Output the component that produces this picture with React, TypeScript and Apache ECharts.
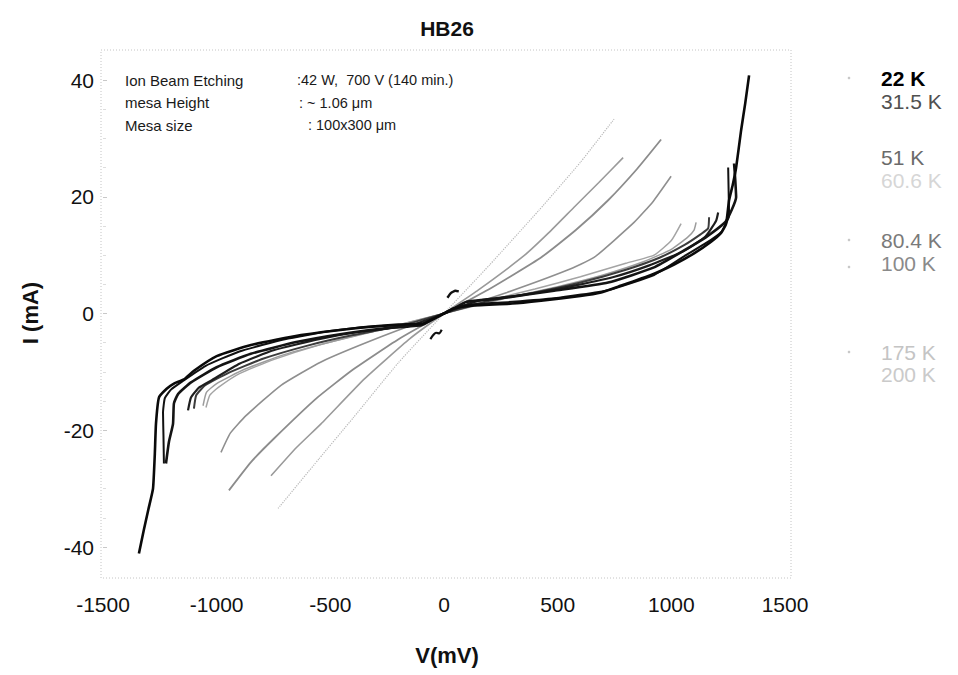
import React, { useEffect, useRef } from "react";
import * as echarts from "echarts";

// ---- data (V in mV, I in mA) ----
const chartTitle = "HB26";
const xName = "V(mV)";
const yName = "I (mA)";
const xMin = -1500;
const xMax = 1500;
const xStep = 500;
const yMin = -40;
const yMax = 40;
const yStep = 20;

const infoLabels = ["Ion Beam Etching", "mesa Height", "Mesa size"];
const infoValues = [":42 W,  700 V (140 min.)", ": ~ 1.06 μm", ": 100x300 μm"];

const tempNames = ["22 K", "31.5 K", "51 K", "60.6 K", "80.4 K", "100 K", "175 K", "200 K"];

const k22a = [
  [-1342, -41.1], [-1320, -37], [-1300, -33.5], [-1280, -30], [-1272, -24], [-1267, -18.9],
  [-1254, -14.4], [-1220, -12.9], [-1188, -12.0], [-1144, -11.3], [-1100, -9.8], [-1000, -7.3],
  [-849, -5.4], [-629, -3.7], [-409, -2.6], [-200, -1.9], [-90, -1.7], [-40, -0.8], [0, 0],
  [40, 0.8], [110, 1.3], [300, 1.7], [427, 2.2], [600, 3.0], [691, 3.6], [766, 4.6], [911, 6.6],
  [1012, 8.4], [1100, 10.3], [1175, 12.3], [1219, 13.8], [1241, 15.4], [1254, 19.4], [1270, 22],
  [1285, 25], [1307, 31.4], [1325, 36], [1342, 40.8],
];
const k22b = [
  [-1232, -25.7], [-1234, -21], [-1236, -17], [-1228, -14.5], [-1200, -13.0], [-1150, -11.6],
  [-1050, -9.0], [-900, -6.5], [-700, -4.4], [-500, -3.0], [-300, -2.2], [-100, -1.8], [-45, -0.9],
  [0, 0], [45, 0.9], [100, 1.5], [300, 2.0], [484, 2.6], [722, 4.0], [924, 6.6], [1056, 9.8],
  [1150, 12.0], [1220, 14.0], [1254, 16.8], [1252, 21], [1250, 25],
];
const k31a = [
  [-1223, -25.7], [-1210, -22], [-1192, -18.9], [-1188, -15.4], [-1170, -13.8], [-1113, -11.8],
  [-1000, -9.2], [-850, -6.9], [-650, -4.9], [-450, -3.5], [-250, -2.5], [-100, -2.0], [-50, -1.0],
  [0, 0], [50, 1.0], [100, 2.0], [250, 2.6], [484, 3.9], [722, 5.3], [924, 7.9], [1056, 10.8],
  [1150, 13.0], [1240, 15.8], [1285, 19.9], [1281, 23], [1276, 25.7],
];
const k31b = [
  [-1126, -16.6], [-1113, -14.4], [-1078, -12.7], [-1025, -11.5], [-900, -8.6], [-750, -6.3],
  [-550, -4.4], [-350, -3.0], [-150, -2.1], [0, 0], [150, 2.2], [350, 3.2], [550, 4.6],
  [750, 6.3], [900, 8.2], [1050, 10.6], [1150, 13.2], [1197, 15.9], [1206, 17.3],
];
const k51 = [
  [-1100, -16.3], [-1090, -14], [-1050, -12.3], [-950, -10.2], [-800, -7.8], [-600, -5.5],
  [-400, -3.7], [-200, -2.2], [0, 0], [200, 2.2], [400, 3.6], [600, 5.3], [800, 7.5],
  [950, 9.6], [1060, 11.8], [1130, 13.6], [1162, 14.6], [1166, 16.5],
];
const k60a = [
  [-1047, -16.1], [-1030, -14], [-994, -12.7], [-900, -10.3], [-750, -7.9], [-550, -5.4],
  [-300, -2.9], [0, 0], [194, 2.2], [400, 4.2], [600, 6.3], [800, 8.6], [924, 10],
  [1000, 12.5], [1043, 15.4],
];
const k60b = [
  [-1060, -15.8], [-1045, -13.5], [-1000, -12.0], [-880, -9.6], [-700, -7.0], [-500, -4.9],
  [-300, -3.0], [0, 0], [300, 2.9], [500, 4.6], [700, 6.6], [880, 8.9], [1000, 11],
  [1070, 13], [1100, 14.3], [1109, 15.6],
];
const k80 = [
  [-981, -23.8], [-940, -20.5], [-871, -17.5], [-717, -12.3], [-541, -8.3], [-277, -4.0],
  [0, 0], [277, 3.6], [541, 7.4], [660, 9.6], [836, 15.6], [920, 19.2], [999, 23.5],
];
const k100 = [
  [-946, -30.3], [-850, -25.5], [-750, -21.5], [-560, -14.5], [-400, -9.6], [-200, -4.4],
  [0, 0], [200, 4.2], [427, 9.6], [580, 14.3], [722, 19.4], [850, 24.8], [955, 29.8],
];
const k175 = [
  [-761, -27.8], [-650, -23], [-541, -18.9], [-350, -11.2], [-150, -4.3], [0, 0],
  [150, 4.0], [352, 9.9], [460, 13.8], [572, 18.2], [680, 22.4], [788, 26.7],
];
const k200 = [
  [-730, -33.4], [-550, -24.9], [-400, -17.9], [-200, -8.4], [0, 0], [200, 8.3],
  [418, 17.7], [600, 25.9], [748, 33.3],
];
const loopUp = [[15, 2.7], [30, 3.5], [50, 3.9], [65, 3.8]];
const loopDown = [[-60, -4.4], [-50, -3.8], [-35, -3.3], [-20, -3.4], [-10, -2.8]];

const curves = [
  { name: "200 K", data: k200, color: "#b8b8b8", width: 1.2, dash: "dotted" },
  { name: "175 K", data: k175, color: "#9a9a9a", width: 1.6, dash: "solid" },
  { name: "100 K", data: k100, color: "#8c8c8c", width: 1.8, dash: "solid" },
  { name: "80.4 K", data: k80, color: "#8f8f8f", width: 1.6, dash: "solid" },
  { name: "60.6 K", data: k60a, color: "#a4a4a4", width: 1.5, dash: "solid" },
  { name: "60.6 K", data: k60b, color: "#9c9c9c", width: 1.5, dash: "solid" },
  { name: "51 K", data: k51, color: "#3c3c3c", width: 2, dash: "solid" },
  { name: "31.5 K", data: k31b, color: "#1e1e1e", width: 2.2, dash: "solid" },
  { name: "31.5 K", data: k31a, color: "#141414", width: 2.6, dash: "solid" },
  { name: "22 K", data: k22b, color: "#111111", width: 2, dash: "solid" },
  { name: "22 K", data: k22a, color: "#0a0a0a", width: 2.6, dash: "solid" },
  { name: "22 K", data: loopUp, color: "#111111", width: 2.4, dash: "solid" },
  { name: "22 K", data: loopDown, color: "#111111", width: 2.2, dash: "solid" },
];

const legendColors = ["#000000", "#505050", "#6a6a6a", "#d6d6d6", "#7a7a7a", "#8a8a8a", "#c4c4c4", "#cacaca"];
const legendY = [78, 101, 157, 180, 240, 263, 352, 374];

export default function App() {
  const ref = useRef<HTMLDivElement>(null);

  useEffect(() => {
    if (!ref.current) return;
    const chart = echarts.init(ref.current, null, { renderer: "svg" });
    const font = '"Liberation Sans", Arial, sans-serif';

    const graphics: any[] = [
      {
        type: "rect",
        silent: true,
        shape: { x: 101, y: 50, width: 690, height: 528 },
        style: { fill: "none", stroke: "#c4c4c4", lineWidth: 1, lineDash: [1, 2] },
      },
      {
        type: "text",
        x: 447,
        y: 28,
        style: { text: chartTitle, font: `bold 21px ${font}`, fill: "#111", textAlign: "center", textVerticalAlign: "middle", align: "center", verticalAlign: "middle" },
      },
      {
        type: "text",
        x: 447,
        y: 655,
        style: { text: xName, font: `bold 22px ${font}`, fill: "#111", textAlign: "center", textVerticalAlign: "middle", align: "center", verticalAlign: "middle" },
      },
      {
        type: "text",
        x: 30,
        y: 313,
        rotation: Math.PI / 2,
        style: { text: yName, font: `bold 22px ${font}`, fill: "#111", textAlign: "center", textVerticalAlign: "middle", align: "center", verticalAlign: "middle" },
      },
    ];
    const infoX = [297, 299, 308];
    infoLabels.forEach((t, i) => {
      graphics.push({
        type: "text",
        x: 125,
        y: 80 + i * 22.5,
        style: { text: t, font: `15px ${font}`, fill: "#1a1a1a", textVerticalAlign: "middle", verticalAlign: "middle" },
      });
      graphics.push({
        type: "text",
        x: infoX[i],
        y: 80 + i * 22.5,
        style: { text: infoValues[i], font: `14.5px ${font}`, fill: "#1a1a1a", textVerticalAlign: "middle", verticalAlign: "middle" },
      });
    });
    tempNames.forEach((t, i) => {
      graphics.push({
        type: "text",
        x: 881,
        y: legendY[i],
        style: {
          text: t,
          font: `${i === 0 ? "bold " : ""}21px ${font}`,
          fill: legendColors[i],
          textVerticalAlign: "middle",
          verticalAlign: "middle",
        },
      });
    });
    [0, 4, 5, 6].forEach((i) => {
      graphics.push({
        type: "circle",
        silent: true,
        shape: { cx: 849, cy: legendY[i] + (i === 5 ? 4 : 0), r: 1.3 },
        style: { fill: "#c8c8c8" },
      });
    });

    chart.setOption({
      animation: false,
      backgroundColor: "#ffffff",
      grid: { left: 103, right: 173, top: 80, bottom: 128 },
      xAxis: {
        type: "value",
        min: xMin,
        max: xMax,
        interval: xStep,
        axisLine: { show: false, onZero: false },
        axisTick: { show: false },
        splitLine: { show: false },
        axisLabel: { margin: 47, fontSize: 21, color: "#111", fontFamily: font, formatter: (v: number) => String(v) },
      },
      yAxis: {
        type: "value",
        min: yMin,
        max: yMax,
        interval: yStep,
        axisLine: { show: false, onZero: false },
        axisTick: { show: true, inside: true, length: 4, lineStyle: { color: "#c8c8c8" } },
        minorTick: { show: true, splitNumber: 4, length: 3, lineStyle: { color: "#dddddd" } },
        splitLine: { show: false },
        axisLabel: { margin: 9, fontSize: 21, color: "#111", fontFamily: font, formatter: (v: number) => String(v) },
      },
      series: curves.map((c) => ({
        type: "line",
        name: c.name,
        data: c.data,
        showSymbol: false,
        symbol: "none",
        clip: false,
        smooth: 0.15,
        lineStyle: { color: c.color, width: c.width, type: c.dash },
        itemStyle: { color: c.color },
        z: 2,
      })),
      graphic: graphics,
    });

    return () => chart.dispose();
  }, []);

  return (
    <div
      ref={ref}
      style={{ position: "fixed", left: 0, top: 0, width: 958, height: 675, background: "#fff" }}
    />
  );
}
